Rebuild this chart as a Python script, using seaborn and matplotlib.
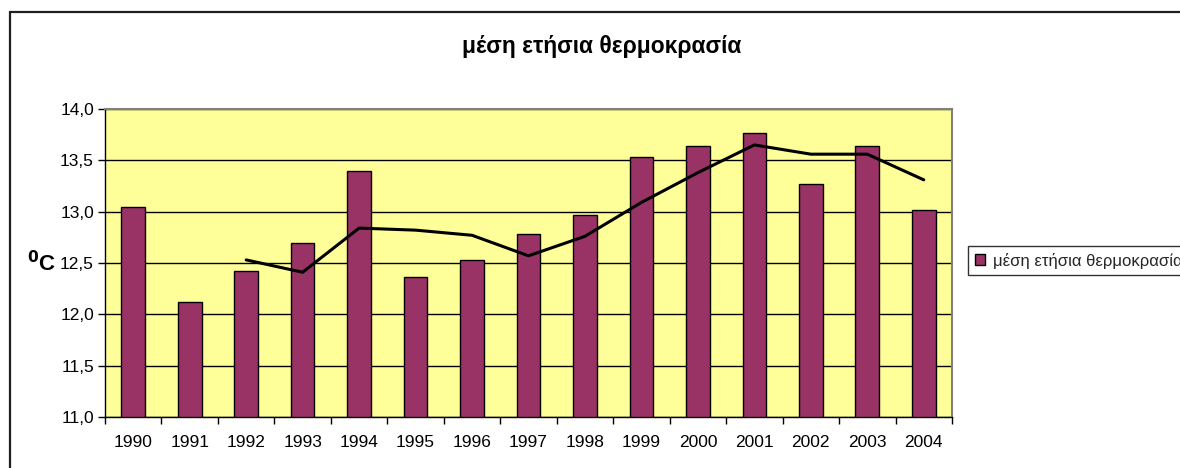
import matplotlib.pyplot as plt
import matplotlib.ticker as mticker
import numpy as np
import pandas as pd
import seaborn as sns
from matplotlib.patches import Patch, Rectangle

# values
years = ["1990", "1991", "1992", "1993", "1994", "1995", "1996", "1997",
         "1998", "1999", "2000", "2001", "2002", "2003", "2004"]
mean_temp = [13.05, 12.12, 12.42, 12.69, 13.40, 12.36, 12.53, 12.78,
             12.97, 13.53, 13.64, 13.77, 13.27, 13.64, 13.02]
# trend line (starts in 1992)
trend_years = ["1992", "1993", "1994", "1995", "1996", "1997", "1998",
               "1999", "2000", "2001", "2002", "2003", "2004"]
trend_temp = [12.53, 12.41, 12.84, 12.82, 12.77, 12.57, 12.76,
              13.09, 13.38, 13.65, 13.56, 13.56, 13.31]

series_name = "μέση ετήσια θερμοκρασία"
y_ticks = [11.0, 11.5, 12.0, 12.5, 13.0, 13.5, 14.0]

bar_color = "#993366"
plot_bg = "#FFFF99"

sns.set_theme(style="white")
plt.rcParams["font.family"] = ["Liberation Sans", "DejaVu Sans"]

W, H = 1180, 468
fig = plt.figure(figsize=(W / 100, H / 100), dpi=100)
fig.patch.set_facecolor("white")
ax = fig.add_axes([105 / W, 1 - 417 / H, (952 - 105) / W, (417 - 109) / H])
ax.set_facecolor(plot_bg)

df = pd.DataFrame({"year": years, "temp": mean_temp})
trend = pd.DataFrame({"year": trend_years, "temp": trend_temp})

# gridlines under the bars
ax.set_axisbelow(True)
ax.yaxis.grid(True, color="black", linewidth=1)

sns.barplot(data=df, x="year", y="temp", order=years, color=bar_color,
            saturation=1, width=0.42, edgecolor="black", linewidth=1,
            ax=ax)
sns.pointplot(data=trend, x="year", y="temp", order=years, color="black",
              marker="", linestyle="-", linewidth=2.2, ax=ax)

ax.set_ylim(11.0, 14.0)
ax.set_xlim(-0.5, len(years) - 0.5)
ax.set_yticks(y_ticks)
ax.yaxis.set_major_formatter(
    mticker.FuncFormatter(lambda v, _: f"{v:.1f}".replace(".", ",")))
ax.set_xlabel("")
ax.set_ylabel("")

# category ticks sit between the bars, labels in the middle
ax.set_xticks(np.arange(len(years)))
ax.set_xticklabels(years)
ax.set_xticks(np.arange(len(years) + 1) - 0.5, minor=True)
ax.tick_params(axis="x", which="major", length=0, pad=13,
               labelsize=12.5, labelcolor="black")
ax.tick_params(axis="x", which="minor", length=5, width=1,
               color="black", direction="out")
ax.tick_params(axis="y", length=5, width=1, color="black",
               direction="out", labelsize=12.5, labelcolor="black", pad=3)
ax.tick_params(left=True, bottom=True, which="both")

for side in ["left", "bottom"]:
    ax.spines[side].set_color("black")
    ax.spines[side].set_linewidth(1)
for side in ["top", "right"]:
    ax.spines[side].set_color("#808080")
    ax.spines[side].set_linewidth(1.5)

fig.text(602 / W, 1 - 47 / H, series_name, ha="center", va="center",
         fontsize=16.4, fontweight="bold", color="black")
fig.text(42 / W, 1 - 264 / H, r"$^{\mathbf{0}}$C", ha="center",
         va="center", fontsize=16, fontweight="bold", color="black")

# legend box runs past the right edge, as in the original
handle = Patch(facecolor=bar_color, edgecolor="black", linewidth=1)
leg = fig.legend([handle], [series_name], loc="upper left",
                 bbox_to_anchor=(968 / W, 1 - 246 / H), borderaxespad=0,
                 fontsize=12, frameon=True, fancybox=False,
                 handlelength=0.65, handleheight=0.65, handletextpad=0.45,
                 borderpad=0.4)
leg.get_frame().set_edgecolor("black")
leg.get_frame().set_linewidth(1)

# outer chart frame (runs off the right and bottom edges)
fig.patches.append(Rectangle((10 / W, -0.2), 1.2, 1 - 12 / H + 0.2,
                             transform=fig.transFigure, fill=False,
                             edgecolor="#202020", linewidth=1.6,
                             zorder=-1))

fig.savefig("out.png", dpi=100)
